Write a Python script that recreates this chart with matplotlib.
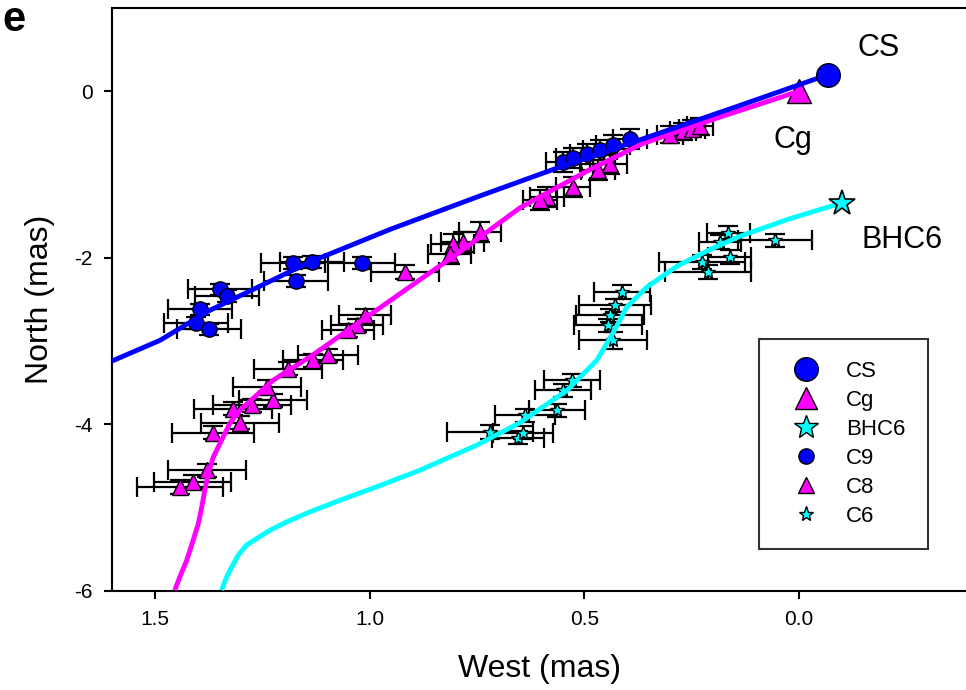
import numpy as np
import matplotlib.pyplot as plt
from matplotlib.lines import Line2D

plt.rcParams['font.family'] = ['Liberation Sans', 'DejaVu Sans']
plt.rcParams['axes.unicode_minus'] = False

# --- fitted tracks, x = West (mas), y = North (mas)
cs_track_x = [1.605, 1.488, 1.372, 1.139, 0.953, 0.750, 0.573, 0.340, 0.137, -0.068]
cs_track_y = [-3.25, -2.99, -2.63, -2.05, -1.66, -1.27, -0.94, -0.53, -0.17, 0.20]

cg_track_x = [1.454, 1.442, 1.426, 1.411, 1.399, 1.391, 1.384, 1.376, 1.364, 1.345,
              1.325, 1.302, 1.225, 1.139, 0.860, 0.806, 0.650, 0.494, 0.365, 0.184, 0.0]
cg_track_y = [-5.99, -5.83, -5.63, -5.39, -5.19, -4.99, -4.79, -4.59, -4.39, -4.19,
              -3.98, -3.83, -3.47, -3.19, -2.18, -1.99, -1.40, -0.96, -0.63, -0.31, 0.0]

bhc6_track_x = [1.345, 1.333, 1.321, 1.306, 1.287, 1.263, 1.232, 1.193, 1.139, 1.069,
                0.984, 0.883, 0.751, 0.650, 0.540, 0.471, 0.433, 0.401, 0.354, 0.284,
                0.207, 0.137, 0.021, -0.100]
bhc6_track_y = [-5.99, -5.83, -5.71, -5.57, -5.45, -5.37, -5.27, -5.17, -5.05, -4.91,
                -4.75, -4.55, -4.25, -3.98, -3.59, -3.23, -2.90, -2.59, -2.35, -2.10,
                -1.90, -1.74, -1.53, -1.34]

# --- reference positions
cs_pos = (-0.068, 0.20)
cg_pos = (0.0, 0.0)
bhc6_pos = (-0.100, -1.34)

# --- C9 component positions
c9_x = [1.349, 1.332, 1.395, 1.405, 1.374, 1.172, 1.179, 1.134, 1.018,
        0.550, 0.526, 0.494, 0.464, 0.433, 0.394]
c9_y = [-2.38, -2.46, -2.62, -2.78, -2.86, -2.28, -2.06, -2.05, -2.06,
        -0.85, -0.80, -0.75, -0.71, -0.65, -0.57]
c9_xerr = [0.075, 0.075, 0.075, 0.075, 0.075, 0.075, 0.075, 0.075, 0.078,
           0.04, 0.04, 0.04, 0.04, 0.04, 0.04]
c9_yerr = [0.07, 0.07, 0.07, 0.07, 0.07, 0.07, 0.07, 0.07, 0.07,
           0.12, 0.12, 0.12, 0.12, 0.12, 0.12]

# --- C8 component positions
c8_x = [1.097, 1.132, 1.190, 1.225, 1.239, 1.274, 1.318, 1.302, 1.365, 1.379,
        1.412, 1.442, 0.918, 1.030, 1.011, 1.051, 0.743, 0.783, 0.806, 0.813,
        0.468, 0.440, 0.587, 0.603, 0.526, 0.30, 0.27, 0.25, 0.23]
c8_y = [-3.17, -3.23, -3.33, -3.71, -3.55, -3.77, -3.81, -3.98, -4.10, -4.55,
        -4.69, -4.75, -2.17, -2.81, -2.69, -2.87, -1.69, -1.81, -1.83, -1.95,
        -0.95, -0.87, -1.27, -1.31, -1.15, -0.52, -0.48, -0.45, -0.42]
c8_xerr = [0.07, 0.07, 0.08, 0.08, 0.08, 0.09, 0.09, 0.09, 0.095, 0.09,
           0.09, 0.10, 0.08, 0.06, 0.06, 0.06, 0.05, 0.05, 0.05, 0.05,
           0.04, 0.04, 0.04, 0.04, 0.04, 0.03, 0.03, 0.03, 0.03]
c8_yerr = [0.08, 0.08, 0.08, 0.08, 0.08, 0.08, 0.08, 0.08, 0.08, 0.08,
           0.08, 0.08, 0.08, 0.08, 0.08, 0.08, 0.12, 0.12, 0.12, 0.12,
           0.12, 0.12, 0.12, 0.12, 0.12, 0.10, 0.10, 0.10, 0.10]

# --- C6 component positions
c6_x = [0.412, 0.429, 0.440, 0.445, 0.433, 0.529, 0.550, 0.564, 0.638, 0.720,
        0.655, 0.643, 0.165, 0.184, 0.161, 0.226, 0.212, 0.056]
c6_y = [-2.41, -2.57, -2.69, -2.81, -2.99, -3.47, -3.59, -3.83, -3.89, -4.09,
        -4.16, -4.10, -1.70, -1.81, -1.99, -2.05, -2.17, -1.79]
c6_xerr = [0.066, 0.084, 0.08, 0.08, 0.08, 0.066, 0.066, 0.066, 0.07, 0.10,
           0.06, 0.07, 0.05, 0.05, 0.05, 0.10, 0.10, 0.087]
c6_yerr = [0.08, 0.08, 0.08, 0.08, 0.10, 0.08, 0.08, 0.08, 0.08, 0.08,
           0.08, 0.08, 0.08, 0.08, 0.08, 0.08, 0.08, 0.08]

fig = plt.figure(figsize=(9.66, 6.90), dpi=100)
ax = fig.add_axes([0.116, 0.1435, 0.884, 0.845])

eb = dict(fmt='none', ecolor='black', elinewidth=1.6, capsize=7, capthick=1.6, zorder=2)
ax.errorbar(c9_x, c9_y, xerr=c9_xerr, yerr=c9_yerr, **eb)
ax.errorbar(c8_x, c8_y, xerr=c8_xerr, yerr=c8_yerr, **eb)
ax.errorbar(c6_x, c6_y, xerr=c6_xerr, yerr=c6_yerr, **eb)

ax.plot(c9_x, c9_y, 'o', color='#0000ff', mec='black', mew=1, ms=11, ls='none', zorder=3)
ax.plot(c8_x, c8_y, '^', color='#ff00ff', mec='black', mew=1, ms=11, ls='none', zorder=3)
ax.plot(c6_x, c6_y, '*', color='#00ffff', mec='black', mew=1, ms=10, ls='none', zorder=3)

ax.plot(*cg_pos, '^', color='#ff00ff', mec='black', mew=1, ms=17, zorder=3.5)

ax.plot(bhc6_track_x, bhc6_track_y, color='#00ffff', lw=3.5, zorder=4,
        solid_capstyle='butt', solid_joinstyle='round')
ax.plot(cg_track_x, cg_track_y, color='#ff00ff', lw=3.5, zorder=4,
        solid_capstyle='butt', solid_joinstyle='round')
ax.plot(cs_track_x, cs_track_y, color='#0000ff', lw=3.5, zorder=4.5,
        solid_capstyle='butt', solid_joinstyle='round')

ax.plot(*cs_pos, 'o', color='#0000ff', mec='black', mew=1, ms=17, zorder=5)
ax.plot(*bhc6_pos, '*', color='#00ffff', mec='black', mew=1.2, ms=19, zorder=5)

ax.text(-0.186, 0.52, 'CS', fontsize=22, ha='center', va='center')
ax.text(0.015, -0.59, 'Cg', fontsize=22, ha='center', va='center')
ax.text(-0.24, -1.79, 'BHC6', fontsize=22, ha='center', va='center')

ax.set_xlim(1.6, -0.389)
ax.set_ylim(-6, 1)
ax.set_xticks([1.5, 1.0, 0.5, 0.0])
ax.set_xticklabels(['1.5', '1.0', '0.5', '0.0'])
ax.set_yticks([0, -2, -4, -6])
ax.tick_params(direction='out', length=6, width=1.5, labelsize=15, pad=8)
for side in ['left', 'bottom', 'top']:
    ax.spines[side].set_linewidth(1.5)
ax.spines['right'].set_visible(False)

ax.set_xlabel('West (mas)', fontsize=23, labelpad=18)
ax.set_ylabel('North (mas)', fontsize=23, labelpad=14)

handles = [
    Line2D([], [], marker='o', ls='none', color='#0000ff', mec='black', ms=17),
    Line2D([], [], marker='^', ls='none', color='#ff00ff', mec='black', ms=16),
    Line2D([], [], marker='*', ls='none', color='#00ffff', mec='black', ms=18),
    Line2D([], [], marker='o', ls='none', color='#0000ff', mec='black', ms=11),
    Line2D([], [], marker='^', ls='none', color='#ff00ff', mec='black', ms=11),
    Line2D([], [], marker='*', ls='none', color='#00ffff', mec='black', ms=11),
]
leg = ax.legend(handles, ['CS', 'Cg', 'BHC6', 'C9', 'C8', 'C6'], loc='lower left',
                bbox_to_anchor=(0.758, 0.072), fontsize=16, frameon=True, fancybox=False,
                edgecolor='black', borderpad=1.0, labelspacing=0.36, handletextpad=0.7,
                handlelength=2.2, borderaxespad=0)
leg.get_frame().set_linewidth(1.5)
leg.set_zorder(10)

fig.text(0.002, 1.0, 'e', fontsize=30, fontweight='bold', ha='left', va='top')

fig.savefig('out.png', dpi=100)
